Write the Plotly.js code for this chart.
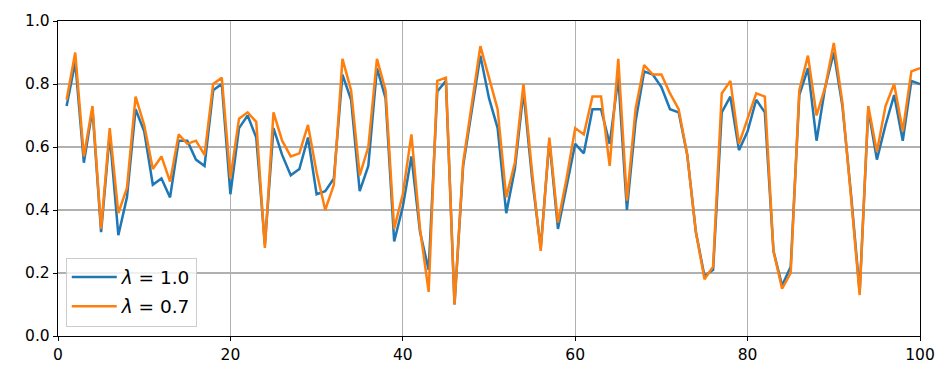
<!DOCTYPE html>
<html>
<head>
<meta charset="utf-8">
<script src="https://cdn.plot.ly/plotly-3.0.1.min.js"></script>
<style>
  html, body { margin: 0; padding: 0; background: #fff; }
  #chart { width: 952px; height: 382px; }
</style>
</head>
<body>
<div id="chart"></div>
<script>
  // values, index 1..100
  var steps = [];
  for (var i = 1; i <= 100; i++) steps.push(i);

  var lambda10 = [
    0.73, 0.87, 0.55, 0.72, 0.33, 0.64, 0.32, 0.44, 0.72, 0.65,
    0.48, 0.50, 0.44, 0.62, 0.62, 0.56, 0.54, 0.78, 0.80, 0.45,
    0.66, 0.70, 0.63, 0.29, 0.66, 0.575, 0.51, 0.53, 0.63, 0.45,
    0.46, 0.50, 0.83, 0.75, 0.46, 0.54, 0.85, 0.755, 0.30, 0.41,
    0.57, 0.33, 0.21, 0.776, 0.81, 0.10, 0.54, 0.72, 0.89, 0.755,
    0.66, 0.39, 0.53, 0.776, 0.50, 0.28, 0.62, 0.34, 0.47, 0.61,
    0.58, 0.72, 0.72, 0.61, 0.82, 0.40, 0.68, 0.84, 0.83, 0.79,
    0.72, 0.71, 0.575, 0.33, 0.19, 0.21, 0.71, 0.76, 0.59, 0.65,
    0.75, 0.71, 0.27, 0.16, 0.22, 0.765, 0.85, 0.62, 0.79, 0.90,
    0.73, 0.45, 0.14, 0.72, 0.56, 0.67, 0.765, 0.62, 0.81, 0.80
  ];

  var lambda07 = [
    0.75, 0.90, 0.57, 0.73, 0.34, 0.66, 0.39, 0.47, 0.76, 0.67,
    0.53, 0.57, 0.49, 0.64, 0.61, 0.62, 0.575, 0.80, 0.82, 0.50,
    0.69, 0.71, 0.68, 0.28, 0.71, 0.62, 0.57, 0.58, 0.67, 0.52,
    0.40, 0.48, 0.88, 0.78, 0.51, 0.60, 0.88, 0.78, 0.34, 0.45,
    0.64, 0.34, 0.14, 0.81, 0.82, 0.10, 0.55, 0.73, 0.92, 0.82,
    0.72, 0.44, 0.55, 0.80, 0.52, 0.27, 0.63, 0.36, 0.50, 0.66,
    0.64, 0.76, 0.76, 0.54, 0.88, 0.43, 0.72, 0.86, 0.83, 0.83,
    0.77, 0.72, 0.575, 0.33, 0.18, 0.22, 0.77, 0.81, 0.61, 0.69,
    0.77, 0.76, 0.27, 0.15, 0.20, 0.78, 0.89, 0.70, 0.79, 0.93,
    0.74, 0.44, 0.13, 0.73, 0.585, 0.73, 0.80, 0.65, 0.84, 0.85
  ];

  var seriesNames = ["<i>λ</i> = 1.0", "<i>λ</i> = 0.7"];
  var xTicks = [0, 20, 40, 60, 80, 100];
  var yTicks = [0, 0.2, 0.4, 0.6, 0.8, 1.0];

  var trace1 = {
    x: steps,
    y: lambda10,
    name: seriesNames[0],
    legendgroup: "a",
    type: "scatter",
    mode: "lines",
    line: { color: "#1f77b4", width: 2.5 }
  };

  var trace2 = {
    x: steps,
    y: lambda07,
    name: seriesNames[1],
    legendgroup: "b",
    type: "scatter",
    mode: "lines",
    line: { color: "#ff7f0e", width: 2.5 }
  };

  var axisCommon = {
    showline: true,
    mirror: true,
    linecolor: "#000",
    linewidth: 1.2,
    ticks: "outside",
    ticklen: 4,
    tickwidth: 1,
    tickcolor: "#000",
    showgrid: true,
    gridcolor: "#b0b0b0",
    gridwidth: 1.2,
    zeroline: false,
    fixedrange: true
  };

  var layout = {
    width: 952,
    height: 382,
    margin: { l: 58, r: 32, t: 21, b: 46, pad: 0 },
    paper_bgcolor: "#fff",
    plot_bgcolor: "#fff",
    font: { family: "DejaVu Sans, sans-serif", size: 15.5, color: "#000" },
    xaxis: Object.assign({}, axisCommon, {
      range: [0, 100],
      tickvals: xTicks,
      ticktext: xTicks.map(String)
    }),
    yaxis: Object.assign({}, axisCommon, {
      range: [0, 1],
      tickvals: yTicks,
      ticktext: yTicks.map(function(v) { return v.toFixed(1); })
    }),
    showlegend: true,
    legend: {
      x: 0.009,
      y: 0.03,
      xanchor: "left",
      yanchor: "bottom",
      bgcolor: "rgba(255,255,255,0.8)",
      bordercolor: "#cccccc",
      borderwidth: 1,
      font: { size: 18.5 },
      itemwidth: 45,
      tracegroupgap: 2
    }
  };

  var config = { displayModeBar: false, staticPlot: true };

  Plotly.newPlot("chart", [trace1, trace2], layout, config);
</script>
</body>
</html>
